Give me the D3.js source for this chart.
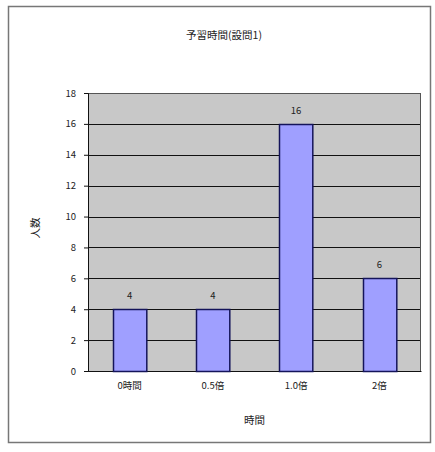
<!DOCTYPE html>
<html><head><meta charset="utf-8">
<script src="https://cdn.jsdelivr.net/npm/d3@7"></script>
<style>body{margin:0;background:#fff;}text{font-family:"Noto Sans CJK JP","Noto Sans",sans-serif;}</style>
</head><body>
<svg id="c" width="435" height="452"></svg>
<script>
const categories = ["0時間", "0.5倍", "1.0倍", "2倍"];
const values = [4, 4, 16, 6];
const yTicks = [0, 2, 4, 6, 8, 10, 12, 14, 16, 18];
const title = "予習時間(設問1)";
const xTitle = "時間";
const yTitle = "人数";

const svg = d3.select("#c");
svg.append("rect").attr("x", 8.5).attr("y", 6.5).attr("width", 422).attr("height", 436)
  .attr("fill", "#fff").attr("stroke", "#777").attr("stroke-width", 1.5);

const m = {l: 88, t: 93, r: 421, b: 371};
const x = d3.scaleBand().domain(categories).range([m.l, m.r]).paddingInner(0.6).paddingOuter(0.3);
const y = d3.scaleLinear().domain([0, 18]).range([m.b, m.t]);

svg.append("rect").attr("x", m.l).attr("y", m.t).attr("width", m.r - m.l).attr("height", m.b - m.t)
  .attr("fill", "#c8c8c8");

svg.append("g").selectAll("line").data(yTicks).join("line")
  .attr("x1", m.l).attr("x2", m.r).attr("y1", d => Math.round(y(d)) + 0.5).attr("y2", d => Math.round(y(d)) + 0.5)
  .attr("stroke", "#111").attr("stroke-width", 1);

svg.append("rect").attr("x", m.l + 0.5).attr("y", m.t + 0.5).attr("width", m.r - m.l - 1).attr("height", m.b - m.t)
  .attr("fill", "none").attr("stroke", "#555");

const yAxis = d3.axisLeft(y).tickValues(yTicks).tickSize(4).tickPadding(8);
const ga = svg.append("g").attr("transform", `translate(${m.l},0)`).call(yAxis);
ga.select(".domain").attr("stroke", "#111");
ga.selectAll(".tick line").attr("stroke", "#111");
ga.selectAll("text").attr("font-size", 9.5).attr("fill", "#222");

const xAxis = d3.axisBottom(x).tickSize(0).tickPadding(11);
const gx = svg.append("g").attr("transform", `translate(0,${m.b})`).call(xAxis);
gx.select(".domain").attr("stroke", "#111");
gx.selectAll("text").attr("font-size", 9.5).attr("fill", "#222");

svg.append("g").selectAll("rect").data(values).join("rect")
  .attr("x", (d, i) => Math.round(x(categories[i])) + 0.5)
  .attr("y", d => Math.round(y(d)) + 0.5)
  .attr("width", x.bandwidth())
  .attr("height", d => y(0) - Math.round(y(d)))
  .attr("fill", "#9f9fff").attr("stroke", "#14145a").attr("stroke-width", 1.5);

svg.append("g").selectAll("text").data(values).join("text")
  .attr("x", (d, i) => x(categories[i]) + x.bandwidth() / 2)
  .attr("y", d => y(d) - 10)
  .attr("text-anchor", "middle").attr("font-size", 9.5).attr("fill", "#222")
  .text(d => d);

svg.append("text").attr("x", 224).attr("y", 39).attr("text-anchor", "middle")
  .attr("font-size", 10.5).attr("fill", "#222").text(title);
svg.append("text").attr("x", (m.l + m.r) / 2).attr("y", 424).attr("text-anchor", "middle")
  .attr("font-size", 10.5).attr("fill", "#222").text(xTitle);
svg.append("text").attr("transform", `translate(39,${(m.t + m.b) / 2 - 4}) rotate(-90)`)
  .attr("text-anchor", "middle").attr("font-size", 10.5).attr("fill", "#222").text(yTitle);
</script>
</body></html>
